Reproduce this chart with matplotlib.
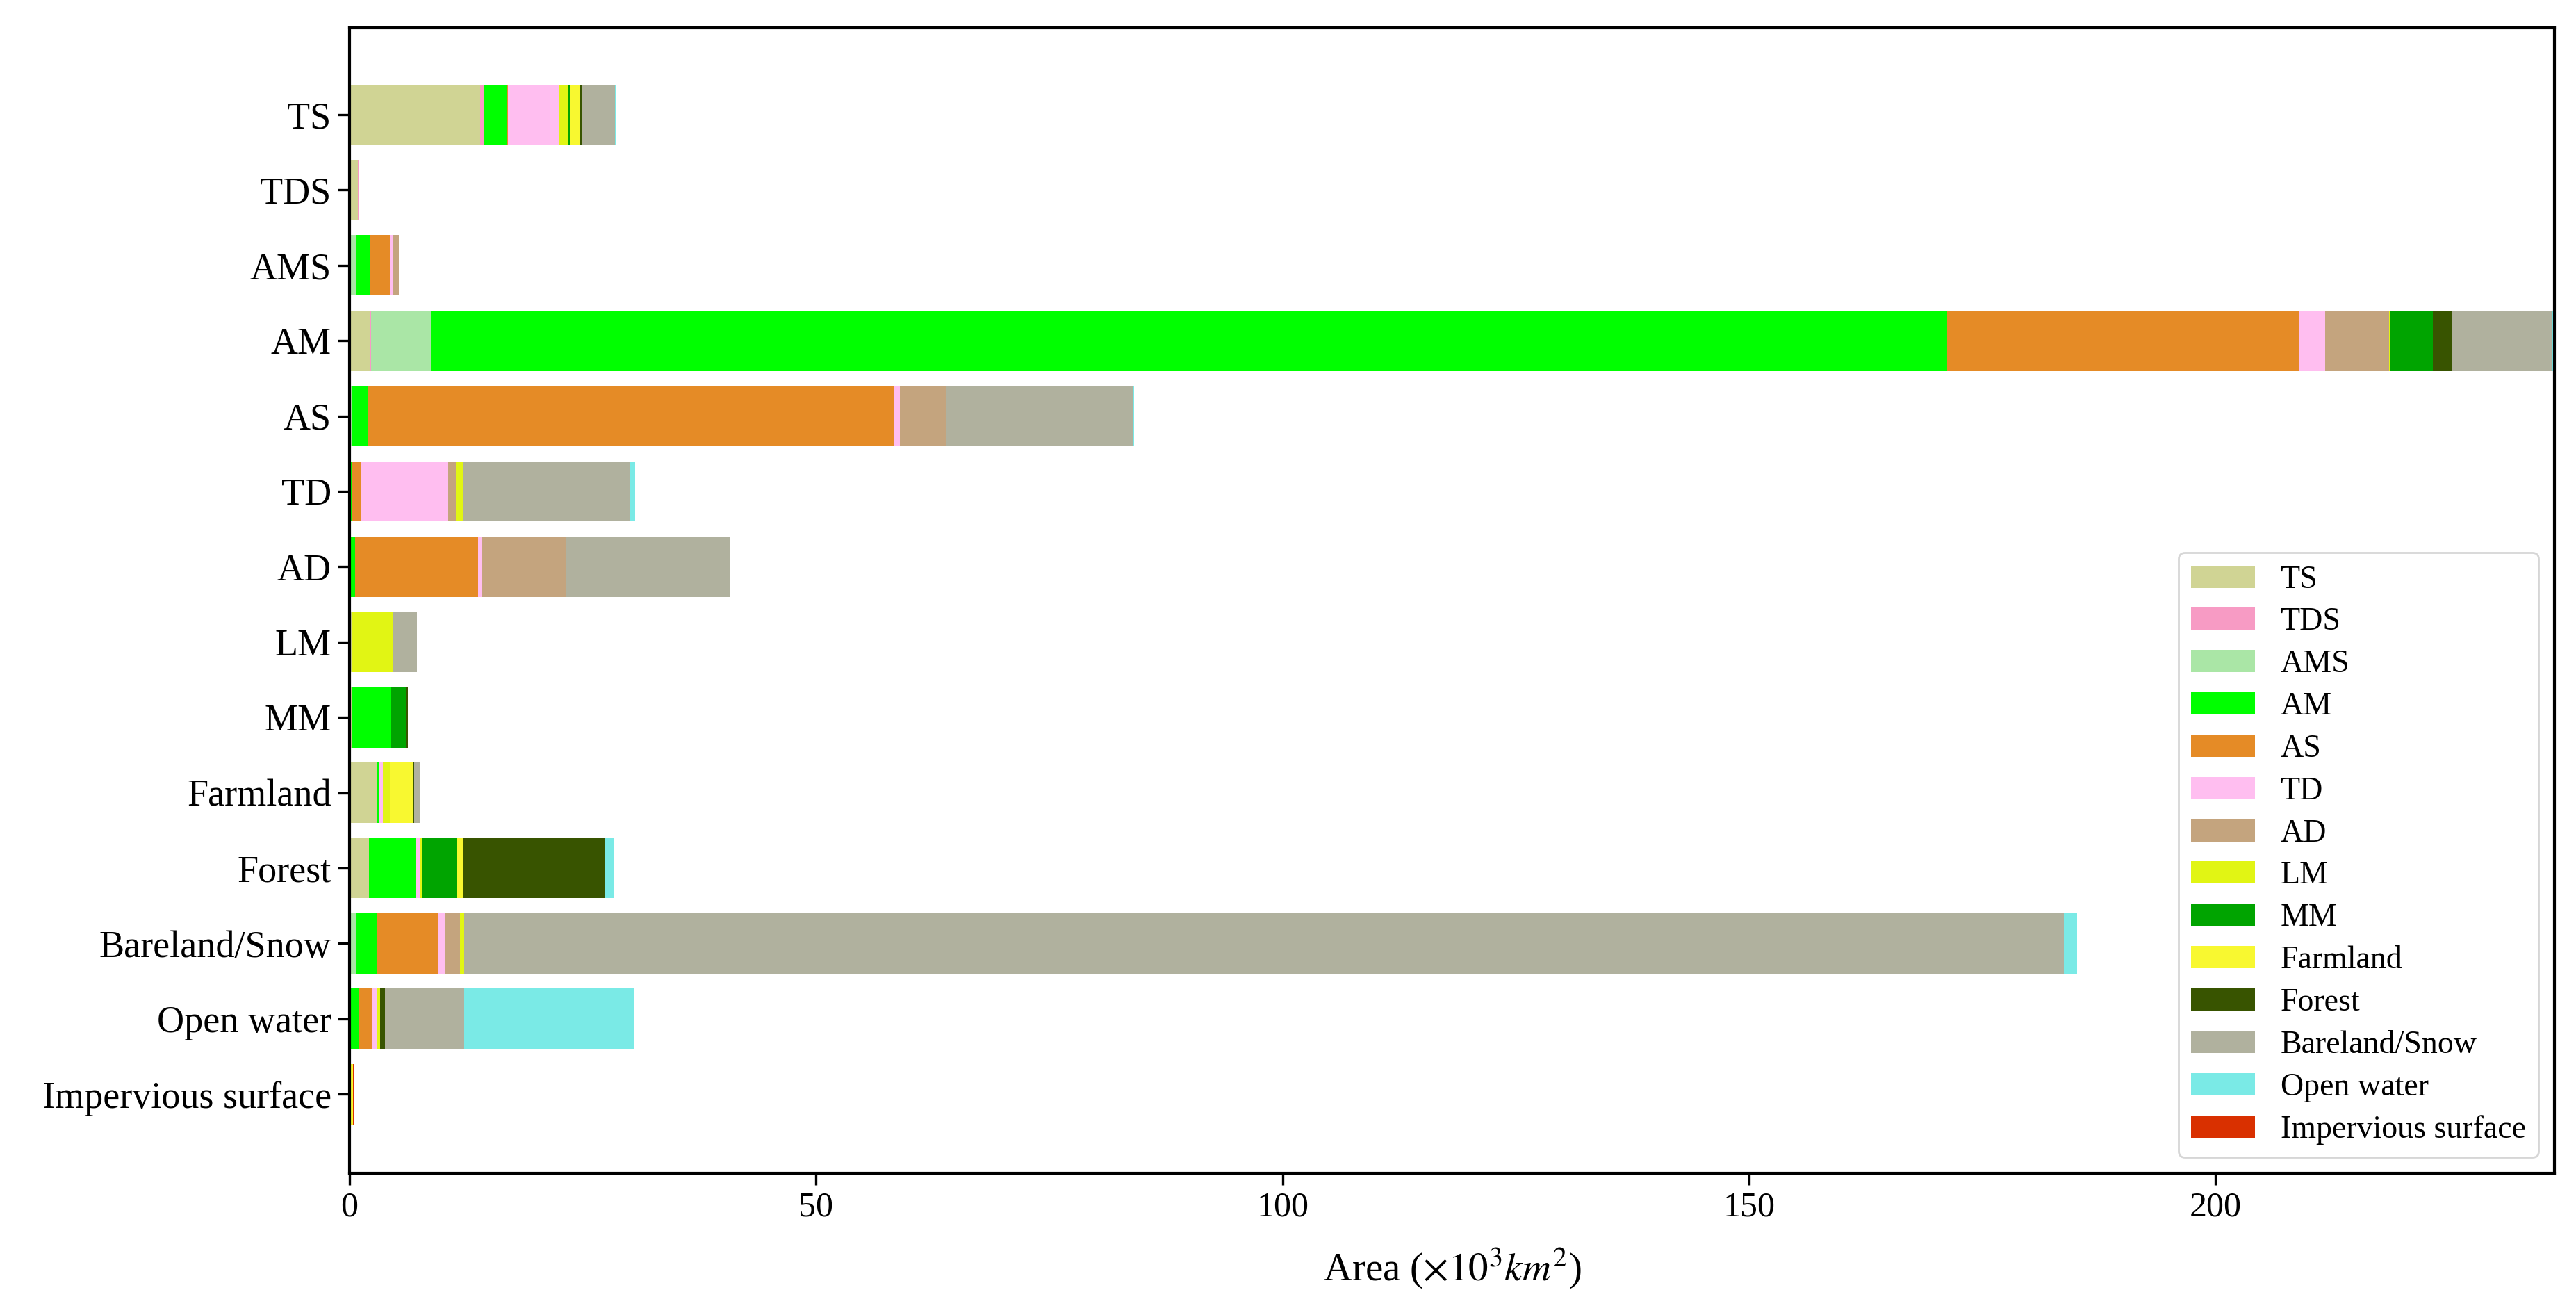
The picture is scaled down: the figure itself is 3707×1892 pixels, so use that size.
import numpy as np
import matplotlib
matplotlib.use('Agg')
import matplotlib.pyplot as plt

plt.rcParams['font.family'] = ['Liberation Serif', 'DejaVu Serif']
plt.rcParams['mathtext.fontset'] = 'stix'

# land cover classes (source rows, top to bottom)
categories = ['TS', 'TDS', 'AMS', 'AM', 'AS', 'TD', 'AD', 'LM', 'MM',
              'Farmland', 'Forest', 'Bareland/Snow', 'Open water', 'Impervious surface']

# area converted into each class, one list per destination class (x10^3 km2)
ts       = [14.0, 0.9, 0.15, 2.2,  0.0,  0.0, 0.0,  0.2, 0.3, 3.0, 2.1,  0.0,   0.0,  0.0]
tds      = [0.4,  0.05, 0.0, 0.1,  0.0,  0.0, 0.0,  0.0, 0.0, 0.0, 0.0,  0.0,   0.0,  0.0]
ams      = [0.0,  0.0, 0.6,  6.4,  0.3,  0.0, 0.0,  0.0, 0.0, 0.0, 0.0,  0.7,   0.0,  0.0]
am       = [2.5,  0.0, 1.5,  162.5, 1.7, 0.3, 0.6,  0.0, 4.2, 0.15, 5.0, 2.3,   1.0,  0.0]
as_      = [0.1,  0.0, 2.1,  37.8, 56.4, 0.9, 13.2, 0.0, 0.0, 0.0, 0.0,  6.5,   1.35, 0.0]
td       = [5.5,  0.0, 0.35, 2.7,  0.6,  9.3, 0.45, 0.0, 0.0, 0.4, 0.45, 0.75,  0.6,  0.0]
ad       = [0.0,  0.0, 0.55, 6.9,  5.0,  0.9, 9.0,  0.0, 0.0, 0.0, 0.0,  1.6,   0.0,  0.0]
lm       = [0.85, 0.0, 0.0,  0.1,  0.0,  0.8, 0.0,  4.4, 0.0, 0.8, 0.2,  0.4,   0.3,  0.0]
mm       = [0.25, 0.0, 0.0,  4.6,  0.0,  0.0, 0.0,  0.0, 1.5, 0.0, 3.7,  0.0,   0.0,  0.0]
farmland = [1.05, 0.0, 0.0,  0.0,  0.0,  0.0, 0.0,  0.0, 0.0, 2.4, 0.65, 0.0,   0.0,  0.35]
forest   = [0.3,  0.0, 0.0,  2.0,  0.0,  0.0, 0.0,  0.0, 0.25, 0.15, 15.2, 0.0,  0.55, 0.0]
bareland = [3.5,  0.0, 0.0,  10.7, 20.0, 17.8, 17.5, 2.6, 0.0, 0.65, 0.0, 171.5, 8.5,  0.0]
water    = [0.15, 0.0, 0.0,  0.3,  0.1,  0.6, 0.0,  0.0, 0.0, 0.0, 1.1,  1.4,   18.2, 0.0]
imperv   = [0.0,  0.0, 0.0,  0.0,  0.0,  0.0, 0.0,  0.0, 0.0, 0.0, 0.0,  0.0,   0.0,  0.15]

series = [ts, tds, ams, am, as_, td, ad, lm, mm, farmland, forest, bareland, water, imperv]
colors = ['#d0d494', '#f79bc4', '#aae6a6', '#00ff00', '#e58b26', '#ffbef0', '#c4a47e',
          '#e1f514', '#00a400', '#f8f830', '#385400', '#b0b19e', '#7aeae6', '#d93000']

fig, ax = plt.subplots(figsize=(18.535, 9.46), dpi=200)
fig.subplots_adjust(left=0.1357, right=0.9916, top=0.979, bottom=0.1078)

y = np.arange(len(categories))
left = np.zeros(len(categories))
for name, vals, c in zip(categories, series, colors):
    vals = np.array(vals)
    ax.barh(y, vals, left=left, height=0.8, color=c, label=name)
    left += vals

ax.set_yticks(y)
ax.set_yticklabels(categories, fontsize=19.5)
ax.set_ylim(len(categories) - 1 + 1.05, -1.156)
ax.set_xlim(0, left.max())
ax.set_xticks([0, 50, 100, 150, 200])
ax.tick_params(axis='x', labelsize=18)
ax.tick_params(length=6, width=1.2)
for s in ax.spines.values():
    s.set_linewidth(1.5)

ax.set_xlabel(r'Area ($\times10^3 km^2$)', fontsize=20.5, labelpad=12)
ax.legend(loc='lower right', fontsize=16.5, labelspacing=0.4)

plt.savefig('out.png', dpi=200)
